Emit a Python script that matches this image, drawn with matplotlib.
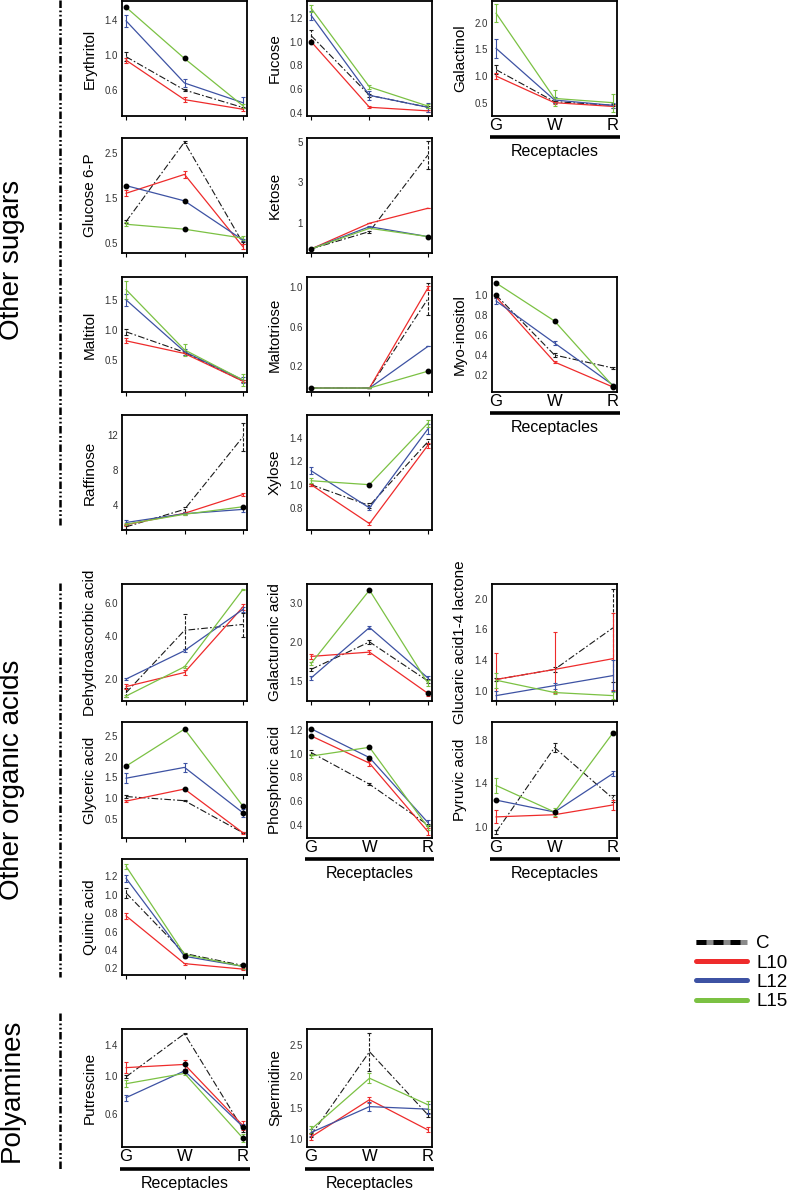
import numpy as np
import matplotlib
matplotlib.use('Agg')
import matplotlib.pyplot as plt
from matplotlib.lines import Line2D
from matplotlib.legend_handler import HandlerTuple
from matplotlib.ticker import FixedLocator, FormatStrFormatter, NullLocator

plt.rcParams['font.family'] = ['Liberation Sans', 'DejaVu Sans']

stages = ['G', 'W', 'R']
series = ['C', 'L10', 'L12', 'L15']

# --- data: mean values per line (G, W, R), error bars, black dots ---
erythritol = {'C': [0.98, 0.60, 0.40], 'L10': [0.94, 0.49, 0.38], 'L12': [1.39, 0.68, 0.455], 'L15': [1.545, 0.96, 0.42]}
erythritol_err = {'C': [0.05, 0.01, 0.01], 'L10': [0.03, 0.025, 0.02], 'L12': [0.07, 0.05, 0.06], 'L15': [0.01, 0.015, 0.02]}
erythritol_dots = [('L15', 0), ('L15', 1)]

fucose = {'C': [1.05, 0.55, 0.45], 'L10': [1.0, 0.45, 0.42], 'L12': [1.22, 0.55, 0.45], 'L15': [1.28, 0.62, 0.46]}
fucose_err = {'C': [0.05, 0.01, 0.01], 'L10': [0.01, 0.01, 0.01], 'L12': [0.04, 0.04, 0.04], 'L15': [0.03, 0.02, 0.015]}
fucose_dots = [('L10', 0)]

galactinol = {'C': [1.12, 0.52, 0.45], 'L10': [1.0, 0.50, 0.43], 'L12': [1.52, 0.55, 0.45], 'L15': [2.18, 0.58, 0.50]}
galactinol_err = {'C': [0.08, 0.02, 0.02], 'L10': [0.05, 0.03, 0.03], 'L12': [0.18, 0.06, 0.05], 'L15': [0.17, 0.15, 0.17]}
galactinol_dots = []

glucose6p = {'C': [0.97, 2.74, 0.49], 'L10': [1.6, 2.02, 0.41], 'L12': [1.77, 1.43, 0.56], 'L15': [0.91, 0.80, 0.60]}
glucose6p_err = {'C': [0.03, 0.02, 0.02], 'L10': [0.07, 0.07, 0.06], 'L12': [0.02, 0.02, 0.03], 'L15': [0.04, 0.02, 0.05]}
glucose6p_dots = [('L12', 0), ('L12', 1), ('L15', 1)]

ketose = {'C': [-0.3, 0.56, 4.34], 'L10': [-0.3, 0.97, 1.71], 'L12': [-0.3, 0.80, 0.31], 'L15': [-0.3, 0.72, 0.31]}
ketose_err = {'C': [0.0, 0.05, 0.7], 'L10': [0.0, 0.0, 0.0], 'L12': [0.0, 0.03, 0.0], 'L15': [0.0, 0.0, 0.0]}
ketose_dots = [('C', 0), ('L12', 2)]

maltitol = {'C': [0.97, 0.63, 0.15], 'L10': [0.82, 0.61, 0.15], 'L12': [1.5, 0.64, 0.17], 'L15': [1.67, 0.67, 0.17]}
maltitol_err = {'C': [0.05, 0.02, 0.02], 'L10': [0.04, 0.02, 0.02], 'L12': [0.1, 0.05, 0.05], 'L15': [0.15, 0.1, 0.1]}
maltitol_dots = []

maltotriose = {'C': [-0.02, -0.02, 0.88], 'L10': [-0.02, -0.02, 0.99], 'L12': [-0.02, -0.02, 0.40], 'L15': [-0.02, -0.02, 0.15]}
maltotriose_err = {'C': [0.0, 0.0, 0.16], 'L10': [0.0, 0.0, 0.02], 'L12': [0.0, 0.0, 0.0], 'L15': [0.0, 0.0, 0.0]}
maltotriose_dots = [('L15', 0), ('L15', 2)]

myoinositol = {'C': [1.0, 0.40, 0.27], 'L10': [0.98, 0.33, 0.08], 'L12': [0.94, 0.52, 0.10], 'L15': [1.12, 0.74, 0.09]}
myoinositol_err = {'C': [0.01, 0.02, 0.01], 'L10': [0.01, 0.01, 0.01], 'L12': [0.03, 0.02, 0.01], 'L15': [0.01, 0.01, 0.01]}
myoinositol_dots = [('L15', 0), ('C', 0), ('L15', 1), ('L10', 2), ('L15', 2)]

raffinose = {'C': [1.5, 3.5, 11.8], 'L10': [1.75, 3.05, 5.2], 'L12': [2.0, 3.0, 3.5], 'L15': [1.8, 2.94, 3.8]}
raffinose_err = {'C': [0.2, 0.3, 1.6], 'L10': [0.1, 0.1, 0.15], 'L12': [0.3, 0.2, 0.3], 'L15': [0.1, 0.1, 0.1]}
raffinose_dots = [('L15', 2)]

xylose = {'C': [1.0, 0.82, 1.37], 'L10': [1.0, 0.665, 1.34], 'L12': [1.12, 0.80, 1.48], 'L15': [1.034, 1.0, 1.53]}
xylose_err = {'C': [0.01, 0.02, 0.02], 'L10': [0.01, 0.015, 0.02], 'L12': [0.03, 0.02, 0.04], 'L15': [0.02, 0.01, 0.03]}
xylose_dots = [('L15', 1)]

dehydro = {'C': [1.51, 4.31, 4.65], 'L10': [1.72, 2.26, 5.73], 'L12': [2.0, 3.24, 5.57], 'L15': [1.40, 2.50, 6.93]}
dehydro_err = {'C': [0.15, 1.0, 0.7], 'L10': [0.1, 0.1, 0.2], 'L12': [0.05, 0.08, 0.15], 'L15': [0.03, 0.05, 0.05]}
dehydro_dots = []

galacturonic = {'C': [1.62, 2.0, 1.5], 'L10': [1.78, 1.84, 1.39], 'L12': [1.53, 2.28, 1.53], 'L15': [1.69, 3.58, 1.48]}
galacturonic_err = {'C': [0.02, 0.04, 0.02], 'L10': [0.04, 0.03, 0.02], 'L12': [0.02, 0.04, 0.02], 'L15': [0.02, 0.02, 0.03]}
galacturonic_dots = [('L15', 1), ('L10', 2)]

glucaric = {'C': [1.15, 1.28, 1.62], 'L10': [1.15, 1.28, 1.41], 'L12': [0.94, 1.07, 1.20], 'L15': [1.14, 0.98, 0.94]}
glucaric_err = {'C': [0.02, 0.03, 0.5], 'L10': [0.3, 0.3, 0.4], 'L12': [0.06, 0.04, 0.2], 'L15': [0.1, 0.02, 0.05]}
glucaric_dots = []

glyceric = {'C': [1.04, 0.94, 0.17], 'L10': [0.93, 1.22, 0.17], 'L12': [1.48, 1.74, 0.65], 'L15': [1.77, 2.66, 0.81]}
glyceric_err = {'C': [0.03, 0.01, 0.01], 'L10': [0.03, 0.02, 0.02], 'L12': [0.12, 0.1, 0.1], 'L15': [0.03, 0.03, 0.03]}
glyceric_dots = [('L15', 0), ('L15', 1), ('L15', 2), ('L10', 1), ('L12', 2)]

phosphoric = {'C': [1.01, 0.743, 0.40], 'L10': [1.15, 0.92, 0.344], 'L12': [1.21, 0.967, 0.42], 'L15': [0.98, 1.054, 0.38]}
phosphoric_err = {'C': [0.02, 0.01, 0.01], 'L10': [0.01, 0.02, 0.03], 'L12': [0.01, 0.01, 0.02], 'L15': [0.02, 0.01, 0.02]}
phosphoric_dots = [('L12', 0), ('L10', 0), ('L12', 1), ('L15', 1)]

pyruvic = {'C': [0.95, 1.73, 1.26], 'L10': [1.09, 1.11, 1.20], 'L12': [1.245, 1.135, 1.49], 'L15': [1.38, 1.135, 1.865]}
pyruvic_err = {'C': [0.02, 0.04, 0.03], 'L10': [0.06, 0.02, 0.05], 'L12': [0.01, 0.01, 0.02], 'L15': [0.07, 0.04, 0.02]}
pyruvic_dots = [('L12', 0), ('L12', 1), ('L15', 2)]

quinic = {'C': [1.02, 0.36, 0.23], 'L10': [0.77, 0.25, 0.19], 'L12': [1.18, 0.33, 0.22], 'L15': [1.31, 0.35, 0.22]}
quinic_err = {'C': [0.05, 0.01, 0.01], 'L10': [0.03, 0.01, 0.01], 'L12': [0.04, 0.02, 0.03], 'L15': [0.03, 0.02, 0.03]}
quinic_dots = [('L12', 1), ('C', 2)]

putrescine = {'C': [0.99, 1.56, 0.47], 'L10': [1.10, 1.14, 0.50], 'L12': [0.76, 1.06, 0.49], 'L15': [0.91, 1.03, 0.40]}
putrescine_err = {'C': [0.02, 0.01, 0.02], 'L10': [0.07, 0.06, 0.04], 'L12': [0.03, 0.02, 0.02], 'L15': [0.04, 0.02, 0.03]}
putrescine_dots = [('L10', 1), ('L12', 1), ('L12', 2), ('L15', 2)]

spermidine = {'C': [1.07, 2.39, 1.39], 'L10': [1.04, 1.63, 1.15], 'L12': [1.11, 1.52, 1.48], 'L15': [1.16, 1.97, 1.55]}
spermidine_err = {'C': [0.03, 0.3, 0.03], 'L10': [0.05, 0.05, 0.04], 'L12': [0.05, 0.07, 0.08], 'L15': [0.06, 0.08, 0.06]}
spermidine_dots = []

# y tick values per panel
yticks = {
    'Erythritol': [0.6, 1.0, 1.4], 'Fucose': [0.4, 0.6, 0.8, 1.0, 1.2], 'Galactinol': [0.5, 1.0, 1.5, 2.0],
    'Glucose 6-P': [0.5, 1.5, 2.5], 'Ketose': [1, 3, 5], 'Maltitol': [0.5, 1.0, 1.5],
    'Maltotriose': [0.2, 0.6, 1.0], 'Myo-inositol': [0.2, 0.4, 0.6, 0.8, 1.0], 'Raffinose': [4, 8, 12],
    'Xylose': [0.8, 1.0, 1.2, 1.4], 'Dehydroascorbic acid': [2.0, 4.0, 6.0],
    'Galacturonic acid': [1.5, 2.0, 3.0], 'Glucaric acid1-4 lactone': [1.0, 1.4, 1.6, 2.0],
    'Glyceric acid': [0.5, 1.0, 1.5, 2.0, 2.5], 'Phosphoric acid': [0.4, 0.6, 0.8, 1.0, 1.2],
    'Pyruvic acid': [1.0, 1.4, 1.8], 'Quinic acid': [0.2, 0.4, 0.6, 0.8, 1.0, 1.2],
    'Putrescine': [0.6, 1.0, 1.4], 'Spermidine': [1.0, 1.5, 2.0, 2.5],
}

colors = {'C': '#1a1a1a', 'L10': '#ee2b2b', 'L12': '#3d52a3', 'L15': '#7bc143'}

W, H = 792, 1190
fig = plt.figure(figsize=(W / 100, H / 100), dpi=100)

col_left = [122, 307, 492]

# name, values, errors, dots, column, top px, bottom px, ylim, scale, x labels
panels = [
    ('Erythritol', erythritol, erythritol_err, erythritol_dots, 0, 1, 116, (0.303, 1.617), 'linear', False),
    ('Fucose', fucose, fucose_err, fucose_dots, 1, 1, 116, (0.377, 1.34), 'linear', False),
    ('Galactinol', galactinol, galactinol_err, galactinol_dots, 2, 1, 116, (0.25, 2.41), 'linear', True),
    ('Glucose 6-P', glucose6p, glucose6p_err, glucose6p_dots, 0, 138, 253, (0.27, 2.83), 'linear', False),
    ('Ketose', ketose, ketose_err, ketose_dots, 1, 138, 253, (-0.5, 5.18), 'linear', False),
    ('Maltitol', maltitol, maltitol_err, maltitol_dots, 0, 277, 392, (-0.03, 1.88), 'linear', False),
    ('Maltotriose', maltotriose, maltotriose_err, maltotriose_dots, 1, 277, 392, (-0.06, 1.10), 'linear', False),
    ('Myo-inositol', myoinositol, myoinositol_err, myoinositol_dots, 2, 277, 392, (0.03, 1.18), 'linear', True),
    ('Raffinose', raffinose, raffinose_err, raffinose_dots, 0, 415, 530, (1.14, 14.3), 'linear', False),
    ('Xylose', xylose, xylose_err, xylose_dots, 1, 415, 530, (0.61, 1.60), 'linear', False),
    ('Dehydroascorbic acid', dehydro, dehydro_err, dehydro_dots, 0, 584, 701, (1.245, 7.32), 'sqrt', False),
    ('Galacturonic acid', galacturonic, galacturonic_err, galacturonic_dots, 1, 584, 701, (1.33, 3.95), 'recip', False),
    ('Glucaric acid1-4 lactone', glucaric, glucaric_err, glucaric_dots, 2, 584, 701, (0.87, 2.19), 'knots', False),
    ('Glyceric acid', glyceric, glyceric_err, glyceric_dots, 0, 722, 838, (0.044, 2.83), 'linear', False),
    ('Phosphoric acid', phosphoric, phosphoric_err, phosphoric_dots, 1, 722, 838, (0.29, 1.267), 'linear', True),
    ('Pyruvic acid', pyruvic, pyruvic_err, pyruvic_dots, 2, 722, 838, (0.895, 1.966), 'linear', True),
    ('Quinic acid', quinic, quinic_err, quinic_dots, 0, 859, 975, (0.126, 1.39), 'linear', False),
    ('Putrescine', putrescine, putrescine_err, putrescine_dots, 0, 1029, 1147, (0.337, 1.63), 'sqrt', True),
    ('Spermidine', spermidine, spermidine_err, spermidine_dots, 1, 1029, 1147, (0.88, 2.75), 'linear', True),
]


def recip_fwd(v):
    v = np.asarray(v, dtype=float)
    return -1.0 / np.maximum(v, 1e-3)


def recip_inv(t):
    t = np.asarray(t, dtype=float)
    return -1.0 / np.minimum(t, -1e-3)


# uneven axis used for the glucaric panel: equal steps between 1.0, 1.4, 1.6, 2.0
knot_v = [0.0, 1.0, 1.4, 1.6, 2.0, 4.0]
knot_t = [-2.5, 0.0, 1.0, 2.0, 3.0, 8.0]


def knots_fwd(v):
    return np.interp(np.asarray(v, dtype=float), knot_v, knot_t)


def knots_inv(t):
    return np.interp(np.asarray(t, dtype=float), knot_t, knot_v)


scale_funcs = {
    'sqrt': (lambda v: np.sqrt(np.clip(np.asarray(v, dtype=float), 0, None)), lambda t: np.square(t)),
    'recip': (recip_fwd, recip_inv),
    'knots': (knots_fwd, knots_inv),
}

x = np.arange(3)
for name, vals, errs, dots, col, top, bot, ylim, scale, xlab in panels:
    ax = fig.add_axes([col_left[col] / W, 1 - bot / H, 125 / W, (bot - top) / H])
    ax.set_ylim(ylim)
    if scale in scale_funcs:
        ax.set_yscale('function', functions=scale_funcs[scale])
    ax.set_xlim(-0.07, 2.07)
    for s in series:
        c = colors[s]
        eb = ax.errorbar(x, vals[s], yerr=errs[s], fmt='none', ecolor=c, elinewidth=0.8,
                         capsize=1.6, capthick=0.8, zorder=2)
        if s == 'C':
            ax.plot(x, vals[s], color=c, lw=0.8, dashes=(6, 2, 1.5, 2), zorder=3)
            eb[2][0].set_linestyle((0, (3, 1.5)))
        else:
            ax.plot(x, vals[s], color=c, lw=0.9, zorder=3)
    for s, i in dots:
        ax.plot(x[i], vals[s][i], 'o', color='black', ms=3.2, zorder=5)
    ax.set_ylim(ylim)
    ax.yaxis.set_major_locator(FixedLocator(yticks[name]))
    ax.yaxis.set_minor_locator(NullLocator())
    fmt = '%d' if name in ('Ketose', 'Raffinose') else '%.1f'
    ax.yaxis.set_major_formatter(FormatStrFormatter(fmt))
    ax.tick_params(axis='y', length=0, pad=3, labelsize=7, labelcolor='#333333')
    ax.set_xticks(x)
    if xlab:
        ax.set_xticklabels(stages, fontsize=12)
        ax.tick_params(axis='x', length=0, pad=1.5)
        ax.plot([-0.02, 1.02], [-0.185, -0.185], transform=ax.transAxes, clip_on=False,
                color='black', lw=2.6, solid_capstyle='butt')
        ax.text(0.5, -0.31, 'Receptacles', transform=ax.transAxes, ha='center', va='center',
                fontsize=11.5)
    else:
        ax.set_xticklabels([])
        ax.tick_params(axis='x', length=3, width=0.8)
    ax.set_ylabel(name, fontsize=11)
    ax.yaxis.set_label_coords(-0.2, 0.5)
    for sp in ax.spines.values():
        sp.set_linewidth(1.3)

# group separators and titles
groups = [('Other sugars', 0, 525, 260), ('Other organic acids', 583, 977, 780), ('Polyamines', 1013, 1170, 1090)]
for label, y0, y1, yc in groups:
    fig.add_artist(Line2D([60 / W, 60 / W], [1 - y0 / H, 1 - y1 / H], transform=fig.transFigure,
                          color='black', lw=1.8, dashes=(3, 1, 0.7, 1, 0.7, 1)))
    fig.text(12 / W, 1 - yc / H, label, rotation=90, ha='center', va='center', fontsize=20)

# legend
c_handle = (Line2D([], [], color='#8a8a8a', lw=3.6, solid_capstyle='butt'),
            Line2D([], [], color='black', lw=3.6, dashes=(2.0, 1.4), dash_capstyle='butt'))
handles = [c_handle] + [Line2D([], [], color=colors[s], lw=3.6, solid_capstyle='round') for s in series[1:]]
fig.legend(handles, series, handler_map={tuple: HandlerTuple(ndivide=1, pad=0)},
           loc='upper left', bbox_to_anchor=(696 / W, 1 - 935 / H), frameon=False, fontsize=13.5,
           handlelength=2.7, handletextpad=0.5, labelspacing=0.12, borderpad=0, borderaxespad=0)

fig.savefig('out.png', dpi=100)
